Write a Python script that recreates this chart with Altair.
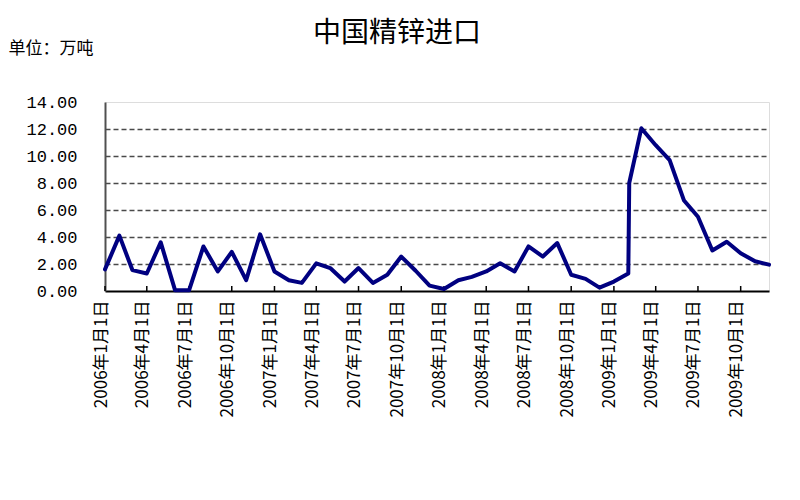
import altair as alt
import pandas as pd

# ---- data ----
dates = [
    "2006-01-01", "2006-02-01", "2006-03-01", "2006-04-01", "2006-05-01", "2006-06-01",
    "2006-07-01", "2006-08-01", "2006-09-01", "2006-10-01", "2006-11-01", "2006-12-01",
    "2007-01-01", "2007-02-01", "2007-03-01", "2007-04-01", "2007-05-01", "2007-06-01",
    "2007-07-01", "2007-08-01", "2007-09-01", "2007-10-01", "2007-11-01", "2007-12-01",
    "2008-01-01", "2008-02-01", "2008-03-01", "2008-04-01", "2008-05-01", "2008-06-01",
    "2008-07-01", "2008-08-01", "2008-09-01", "2008-10-01", "2008-11-01", "2008-12-01",
    "2009-01-01", "2009-02-01", "2009-02-03", "2009-03-01", "2009-04-01", "2009-05-01",
    "2009-06-01", "2009-07-01", "2009-08-01", "2009-09-01", "2009-10-01", "2009-11-01",
    "2009-12-01",
]
values = [
    1.60, 4.10, 1.55, 1.30, 3.60, 0.05,
    0.05, 3.30, 1.45, 2.90, 0.80, 4.20,
    1.45, 0.80, 0.60, 2.05, 1.70, 0.70,
    1.70, 0.60, 1.20, 2.55, 1.50, 0.40,
    0.15, 0.80, 1.05, 1.45, 2.05, 1.45,
    3.30, 2.55, 3.55, 1.20, 0.90, 0.25,
    0.70, 1.30, 8.00, 12.05, 10.80, 9.70,
    6.70, 5.50, 3.00, 3.65, 2.80, 2.20,
    1.95,
]
tick_dates = [
    "2006-01-01", "2006-04-01", "2006-07-01", "2006-10-01",
    "2007-01-01", "2007-04-01", "2007-07-01", "2007-10-01",
    "2008-01-01", "2008-04-01", "2008-07-01", "2008-10-01",
    "2009-01-01", "2009-04-01", "2009-07-01", "2009-10-01",
]
y_ticks = [0, 2, 4, 6, 8, 10, 12, 14]

title_text = "中国精锌进口"
unit_text = "单位：万吨"

df = pd.DataFrame({"date": dates, "value": values})
df_ticks = pd.DataFrame({"date": tick_dates})


def dt(s):
    y, m, d = (int(p) for p in s.split("-"))
    return alt.DateTime(year=y, month=m, date=d, utc=True)


x_scale = alt.Scale(type="utc", domain=[dt(dates[0]), dt(dates[-1])], nice=False)
y_scale = alt.Scale(domain=[0, 14], nice=False)

x_axis = alt.Axis(
    title=None,
    values=[dt(s) for s in tick_dates],
    format="%Y年%-m月%-d日",
    labelAngle=-90,
    labelFont="Noto Sans CJK SC",
    labelFontSize=17,
    labelColor="#000000",
    labelPadding=9,
    labelOffset=-4,
    ticks=False,
    grid=False,
    domainColor="#000000",
    domainWidth=2,
    labelOverlap=False,
)

y_axis = alt.Axis(
    title=unit_text,
    titleAngle=0,
    titleAlign="left",
    titleBaseline="middle",
    titleX=-97,
    titleY=-54,
    titleFont="Noto Sans CJK SC",
    titleFontSize=17,
    titleFontWeight="normal",
    titleColor="#000000",
    values=y_ticks,
    format=".2f",
    labelFont="Liberation Mono",
    labelFontSize=17,
    labelColor="#000000",
    labelPadding=28,
    labelOverlap=False,
    labelFlush=False,
    ticks=False,
    domainColor="#505050",
    domainWidth=2,
    grid=True,
    gridColor="#4a4a4a",
    gridDash=[5, 3],
    gridWidth=1.6,
    gridOpacity=alt.condition(
        "datum.value == 0 || datum.value == 14", alt.value(0), alt.value(1)
    ),
)

line = alt.Chart(df).mark_line(
    color="#000080", strokeWidth=4, strokeJoin="round", strokeCap="round"
).encode(
    x=alt.X("date:T", scale=x_scale, axis=x_axis),
    y=alt.Y("value:Q", scale=y_scale, axis=y_axis),
)

inner_ticks = alt.Chart(df_ticks).mark_rule(color="#000000", strokeWidth=1.5).encode(
    x=alt.X("date:T", scale=x_scale, axis=x_axis),
    y=alt.YDatum(0, scale=y_scale, axis=y_axis),
    y2=alt.datum(0.37),
)

chart = (
    alt.layer(inner_ticks, line)
    .properties(
        width=664,
        height=189,
        autosize=alt.AutoSizeParams(type="none"),
        padding={"left": 97, "top": 94, "right": 23, "bottom": 190},
        title=alt.TitleParams(
            text=title_text,
            font="Noto Sans CJK SC",
            fontSize=28,
            fontWeight="normal",
            color="#000000",
            anchor="middle",
            frame="group",
            dx=-40,
            offset=-9,
        ),
    )
    .configure_view(stroke="#7a7a7a", strokeWidth=2)
    .configure(background="#ffffff")
)

chart.save("out.html", embed_options={"renderer": "svg", "actions": False})
